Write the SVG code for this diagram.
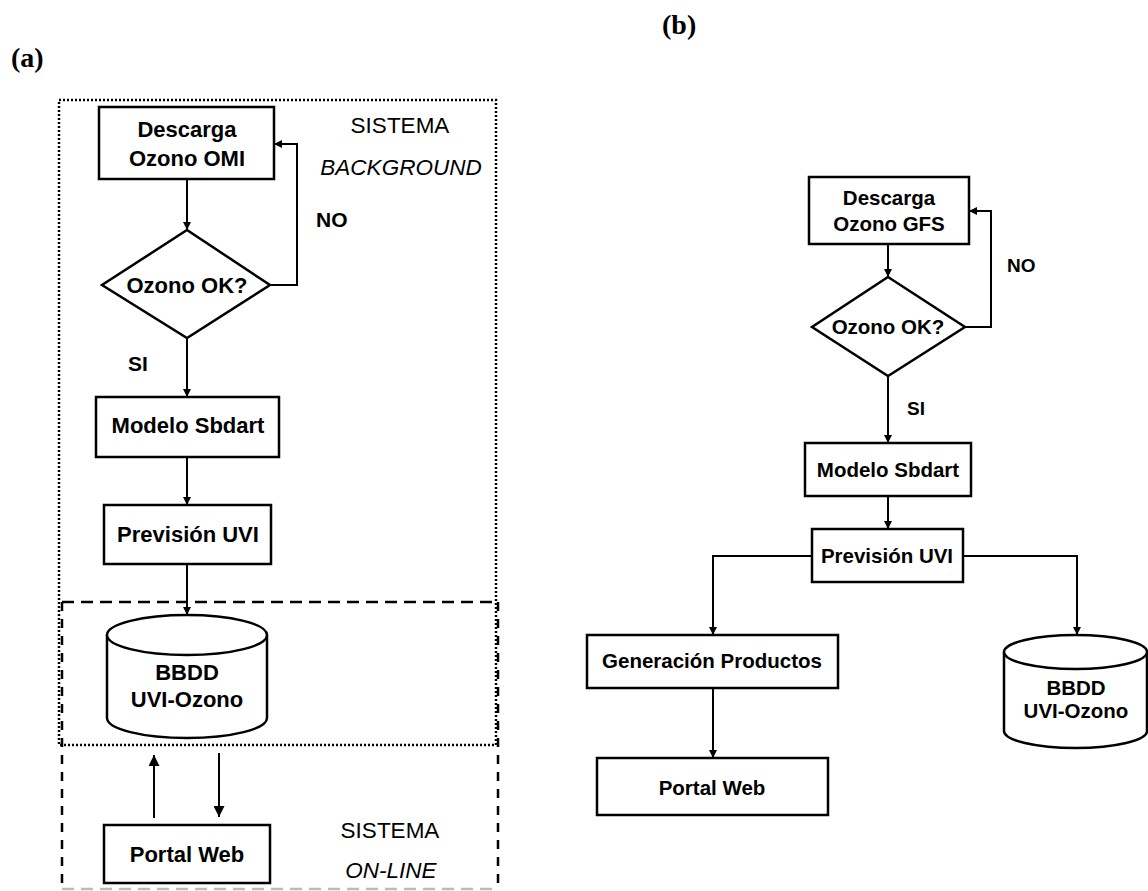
<svg xmlns="http://www.w3.org/2000/svg" width="1148" height="891" viewBox="0 0 1148 891">
<defs>
<marker id="ah" viewBox="0 0 10 10" refX="10" refY="5" markerWidth="8" markerHeight="8" markerUnits="userSpaceOnUse" orient="auto"><path d="M0,0 L10,5 L0,10 z" fill="#000"/></marker>
<marker id="ahL" viewBox="0 0 10 10" refX="10" refY="5" markerWidth="13" markerHeight="11" markerUnits="userSpaceOnUse" orient="auto"><path d="M0,0 L10,5 L0,10 z" fill="#000"/></marker>
<style>
.box{fill:#fff;stroke:#000;stroke-width:2.5}
.ln{fill:none;stroke:#000;stroke-width:2}
.t{font-family:"Liberation Sans",Arial,sans-serif;font-weight:bold;font-size:22px;fill:#000;text-anchor:middle}
.tr{font-family:"Liberation Sans",Arial,sans-serif;font-weight:bold;font-size:20.5px;fill:#000;text-anchor:middle}
.lab{font-family:"Liberation Sans",Arial,sans-serif;font-size:22.5px;fill:#000;text-anchor:middle}
.it{font-style:italic}
.fig{font-family:"Liberation Serif","Times New Roman",serif;font-weight:bold;font-size:28px;fill:#000}
.lb{font-family:"Liberation Sans",Arial,sans-serif;font-weight:bold;font-size:21px;fill:#000}
.lbr{font-family:"Liberation Sans",Arial,sans-serif;font-weight:bold;font-size:19px;fill:#000}
</style>
</defs>
<text class="fig" x="11" y="67">(a)</text>
<text class="fig" x="662" y="34">(b)</text>

<g id="regions">
<rect x="59" y="100" width="437" height="645" fill="none" stroke="#000" stroke-width="2.5" stroke-dasharray="2,2"/>
<path d="M62,602 H498" fill="none" stroke="#000" stroke-width="2.5" stroke-dasharray="12,7"/>
<path d="M62,602 V889 M498,602 V889" fill="none" stroke="#000" stroke-width="2.5" stroke-dasharray="9,8"/>
<path d="M62,889 H498" fill="none" stroke="#bbb" stroke-width="2.5" stroke-dasharray="12,7"/>
<text class="lab" x="400" y="133">SISTEMA</text>
<text class="lab it" x="401" y="175">BACKGROUND</text>
<text class="lab" x="390" y="838">SISTEMA</text>
<text class="lab it" x="391" y="878">ON-LINE</text>
</g>

<g id="connectors">
<path class="ln" d="M187,179 V230" marker-end="url(#ah)"/>
<path class="ln" d="M270,285 H297 V144 H274" marker-end="url(#ah)"/>
<path class="ln" d="M187,338 V397" marker-end="url(#ah)"/>
<path class="ln" d="M187,457 V505" marker-end="url(#ah)"/>
<path class="ln" d="M187,564 V615" marker-end="url(#ah)"/>
<path class="ln" d="M154,818 V755" marker-end="url(#ahL)"/>
<path class="ln" d="M219,753 V817" marker-end="url(#ahL)"/>
<text class="lb" x="316" y="227">NO</text>
<text class="lb" x="128" y="371">SI</text>

<path class="ln" d="M888,244 V277" marker-end="url(#ah)"/>
<path class="ln" d="M965,327 H991 V211 H969" marker-end="url(#ah)"/>
<path class="ln" d="M888,376 V443" marker-end="url(#ah)"/>
<path class="ln" d="M888,496 V529" marker-end="url(#ah)"/>
<path class="ln" d="M812,556 H713 V635" marker-end="url(#ah)"/>
<path class="ln" d="M963,556 H1077 V635" marker-end="url(#ah)"/>
<path class="ln" d="M713,688 V758" marker-end="url(#ah)"/>
<text class="lbr" x="1007" y="272">NO</text>
<text class="lbr" x="907" y="415">SI</text>
</g>

<g id="a-descarga">
<rect class="box" x="99" y="107" width="175" height="72"/>
<text class="t" x="187" y="137">Descarga</text>
<text class="t" x="187" y="166">Ozono OMI</text>
</g>
<g id="a-ozono-ok">
<polygon class="box" points="187,230 270,285 187,338 102,285"/>
<text class="t" x="187" y="293">Ozono OK?</text>
</g>
<g id="a-modelo">
<rect class="box" x="96" y="397" width="183" height="60"/>
<text class="t" x="188" y="433">Modelo Sbdart</text>
</g>
<g id="a-prevision">
<rect class="box" x="104" y="505" width="167" height="59"/>
<text class="t" x="188" y="542">Previsión UVI</text>
</g>
<g id="a-bbdd">
<path class="box" d="M107,635 V718 A80,20 0 0 0 267,718 V635"/>
<ellipse class="box" cx="187" cy="635" rx="80" ry="20"/>
<text class="t" x="187" y="680">BBDD</text>
<text class="t" x="187" y="707">UVI-Ozono</text>
</g>
<g id="a-portal">
<rect class="box" x="104" y="825" width="166" height="58"/>
<text class="t" x="187" y="862">Portal Web</text>
</g>

<g id="b-descarga">
<rect class="box" x="809" y="177" width="160" height="67"/>
<text class="tr" x="889" y="205">Descarga</text>
<text class="tr" x="889" y="231">Ozono GFS</text>
</g>
<g id="b-ozono-ok">
<polygon class="box" points="888,277 965,327 888,376 812,327"/>
<text class="tr" x="888" y="334">Ozono OK?</text>
</g>
<g id="b-modelo">
<rect class="box" x="805" y="443" width="166" height="53"/>
<text class="tr" x="888" y="477">Modelo Sbdart</text>
</g>
<g id="b-prevision">
<rect class="box" x="812" y="529" width="151" height="53"/>
<text class="tr" x="887" y="563">Previsión UVI</text>
</g>
<g id="b-generacion">
<rect class="box" x="587" y="635" width="251" height="53"/>
<text class="tr" x="712" y="668">Generación Productos</text>
</g>
<g id="b-portal">
<rect class="box" x="597" y="758" width="231" height="57"/>
<text class="tr" x="712" y="795">Portal Web</text>
</g>
<g id="b-bbdd">
<path class="box" d="M1004,652 V731 A71.5,17 0 0 0 1147,731 V652"/>
<ellipse class="box" cx="1075.5" cy="652" rx="71.5" ry="17"/>
<text class="tr" x="1076" y="695">BBDD</text>
<text class="tr" x="1076" y="718">UVI-Ozono</text>
</g>
</svg>
